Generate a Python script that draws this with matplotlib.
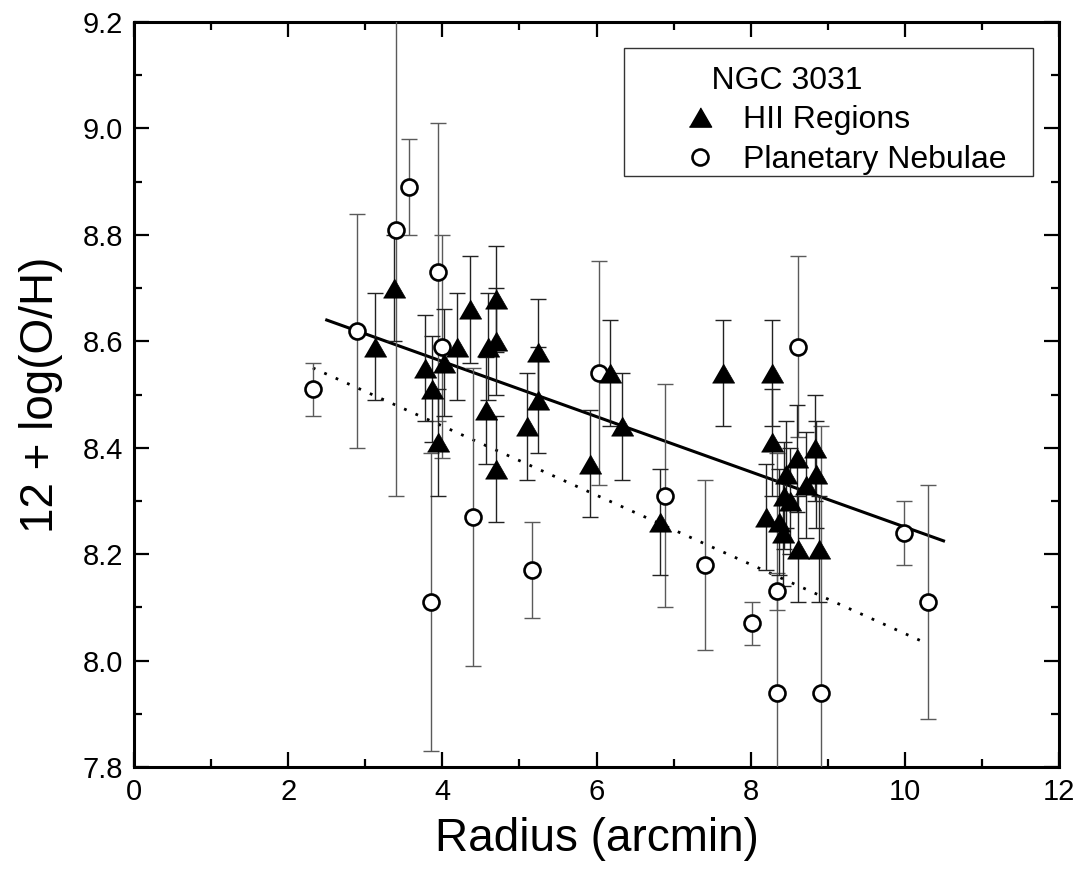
import matplotlib
matplotlib.use("Agg")
import matplotlib.pyplot as plt
from matplotlib.lines import Line2D
from matplotlib.patches import Rectangle

plt.rcParams['font.family'] = ['Liberation Sans', 'DejaVu Sans']

# HII regions: radius (arcmin), 12+log(O/H), error
hii_r = [3.13, 3.37, 3.78, 3.87, 3.94, 4.02, 4.19, 4.36, 4.57, 4.59, 4.70, 4.70,
         4.70, 5.10, 5.24, 5.24, 5.92, 6.18, 6.33, 6.82, 7.64, 8.28, 8.28, 8.20,
         8.37, 8.42, 8.46, 8.43, 8.51, 8.60, 8.71, 8.83, 8.85, 8.61, 8.89]
hii_oh = [8.59, 8.70, 8.55, 8.51, 8.41, 8.56, 8.59, 8.66, 8.47, 8.59, 8.60, 8.68,
          8.36, 8.44, 8.58, 8.49, 8.37, 8.54, 8.44, 8.26, 8.54, 8.54, 8.41, 8.27,
          8.26, 8.24, 8.35, 8.31, 8.30, 8.38, 8.33, 8.40, 8.35, 8.21, 8.21]
hii_err = [0.10] * len(hii_r)

# Planetary nebulae
pn_r = [2.32, 2.89, 3.40, 3.57, 3.85, 3.94, 4.00, 4.40, 5.16, 6.03, 6.89, 7.41,
        8.02, 8.34, 8.34, 8.61, 8.91, 9.99, 10.30]
pn_oh = [8.51, 8.62, 8.81, 8.89, 8.11, 8.73, 8.59, 8.27, 8.17, 8.54, 8.31, 8.18,
         8.07, 8.13, 7.94, 8.59, 7.94, 8.24, 8.11]
pn_err = [0.05, 0.22, 0.50, 0.09, 0.28, 0.28, 0.21, 0.28, 0.09, 0.21, 0.21, 0.16,
          0.04, 0.035, 0.45, 0.17, 0.50, 0.06, 0.22]

# linear fits
hii_fit_x = [2.5, 10.5]
hii_fit_y = [8.64, 8.225]
pn_fit_x = [2.32, 10.21]
pn_fit_y = [8.55, 8.037]

tri = [(-1, -0.866), (1, -0.866), (0, 0.866)]

fig = plt.figure(figsize=(10.83, 8.85), dpi=100)
ax = fig.add_axes([0.1237, 0.1333, 0.8543, 0.8418])

ax.plot(hii_fit_x, hii_fit_y, color='black', lw=2.2)
ax.plot(pn_fit_x, pn_fit_y, color='black', lw=2.0, linestyle=(0, (1, 3.5)))

ax.errorbar(pn_r, pn_oh, yerr=pn_err, fmt='none', ecolor='#5a5a5a',
            elinewidth=1.0, capsize=5.5, capthick=1.0, zorder=3)
ax.errorbar(hii_r, hii_oh, yerr=hii_err, fmt='none', ecolor='#222222',
            elinewidth=1.0, capsize=5.5, capthick=1.0, zorder=3)
ax.plot(pn_r, pn_oh, linestyle='none', marker='o', ms=11.5, mfc='white',
        mec='black', mew=1.9, zorder=4)
ax.plot(hii_r, hii_oh, linestyle='none', marker=tri, ms=16, mfc='black',
        mec='black', mew=0.5, zorder=5)

ax.set_xlim(0, 12)
ax.set_ylim(7.8, 9.2)
ax.set_xticks([0, 2, 4, 6, 8, 10, 12])
ax.set_xticks([1, 3, 5, 7, 9, 11], minor=True)
ax.set_yticks([7.8, 8.0, 8.2, 8.4, 8.6, 8.8, 9.0, 9.2])
ax.set_yticks([7.9, 8.1, 8.3, 8.5, 8.7, 8.9, 9.1], minor=True)
ax.set_yticklabels(['7.8', '8.0', '8.2', '8.4', '8.6', '8.8', '9.0', '9.2'])
ax.tick_params(which='both', direction='in', top=True, right=True,
               labelsize=21, width=1.6, pad=8)
ax.tick_params(which='major', length=11)
ax.tick_params(which='minor', length=6)
for s in ax.spines.values():
    s.set_linewidth(2.2)

ax.set_xlabel('Radius (arcmin)', fontsize=33, labelpad=8)
ax.set_ylabel('12 + log(O/H)', fontsize=33, labelpad=14)

# legend box
ax.add_patch(Rectangle((0.53, 0.793), 0.442, 0.172, transform=ax.transAxes,
                       fill=False, edgecolor='#333333', lw=1.0, zorder=6))
handles = [Line2D([], [], linestyle='none', marker=tri, ms=16, mfc='black',
                  mec='black'),
           Line2D([], [], linestyle='none', marker='o', ms=11.5, mfc='white',
                  mec='black', mew=1.9)]
leg = ax.legend(handles, ['HII Regions', 'Planetary Nebulae'],
                title='    NGC 3031',
                loc='upper left', bbox_to_anchor=(0.555, 0.98), frameon=False,
                fontsize=23, title_fontsize=23, alignment='left',
                handletextpad=0.6, labelspacing=0.3, borderpad=0.4,
                handlelength=1.5)

fig.savefig('out.png', dpi=100)
